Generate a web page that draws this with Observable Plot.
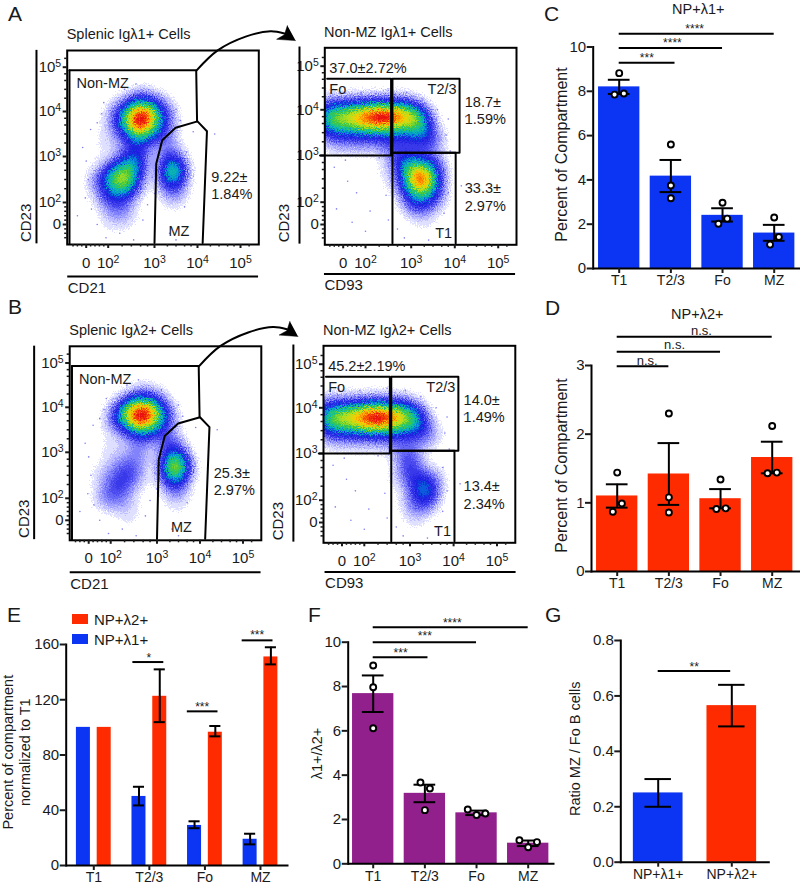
<!DOCTYPE html>
<html><head><meta charset="utf-8">
<script src="https://cdn.jsdelivr.net/npm/d3@7"></script>
<script src="https://cdn.jsdelivr.net/npm/@observablehq/plot@0.6"></script>
<style>
html,body{margin:0;padding:0;background:#fff}
#page{position:relative;width:800px;height:886px;overflow:hidden;font-family:"Liberation Sans",Arial,sans-serif;color:#1a1a1a}
#page svg{position:absolute;overflow:visible;background:transparent}
.t{position:absolute;white-space:nowrap;line-height:1;transform:translateY(-50%)}
.letter{font-size:21px}
.sw{position:absolute;width:16px;height:10px}
</style></head><body><div id="page">
<svg width="0" height="0" aria-hidden="true"><defs><filter id="grain" x="-5%" y="-5%" width="110%" height="110%" color-interpolation-filters="sRGB">
<feTurbulence type="fractalNoise" baseFrequency="0.85" numOctaves="2" seed="4" result="n"/>
<feDisplacementMap in="SourceGraphic" in2="n" scale="13" xChannelSelector="R" yChannelSelector="G"/>
</filter></defs></svg>
</div>
<script>
// ---------- categories ----------
const compartments = ["T1","T2/3","Fo","MZ"];
const groupsG = ["NP+λ1+","NP+λ2+"];
const BLUE="#0b35f2", RED="#ff2b00", PURPLE="#91208c";

// ---------- panel C ----------
const cBars=[8.2,4.17,2.4,1.6], cHi=[8.52,4.9,2.72,1.97], cLo=[7.88,3.45,2.12,1.25];
const cDotX=[0,-.09,.09, 1,1,1, 2,1.92,2.09, 3,2.92,3.09];
const cDotY=[8.82,7.85,7.9, 5.6,3.75,3.17, 2.97,2.02,2.25, 2.3,1.08,1.42];
const cBrTo=[1.08,2,3], cBrY=[9.29,9.95,10.6], cBrTx=["***","****","****"], cBrTxX=[.535,1.03,1.46], cBrTxY=[9.62,10.32,10.96];
// ---------- panel D ----------
const dBars=[1.1,1.42,1.06,1.66], dHi=[1.27,1.87,1.2,1.89], dLo=[.93,.97,.92,1.43];
const dDotX=[0,-.085,.09, 1,1,1, 2,1.92,2.1, 3,2.91,3.09];
const dDotY=[1.44,.87,.99, 2.3,1.08,.86, 1.34,.91,.92, 2.12,1.43,1.44];
const dBrTo=[1,2,3], dBrY=[2.99,3.2,3.42], dBrTx=["n.s.","n.s.","n.s."], dBrTxX=[.58,1.11,1.63], dBrTxY=[3.07,3.3,3.51];
// ---------- panel E ----------
const eBlue=[100,50,29,19], eRed=[100,122.5,96.5,151];
const eBlueHi=[null,57,32,23], eBlueLo=[null,43.5,27,15.3];
const eRedHi=[null,142,101,158], eRedLo=[null,103.8,93.5,145.6];
const eBrX1=[.703,1.683,2.67], eBrX2=[1.26,2.235,3.225], eBrY=[147.3,111.6,163];
const eBrTx=["*","***","***"], eBrTxX=[.99,1.95,2.94], eBrTxY=[152.6,116.7,168.6];
// ---------- panel F ----------
const fBars=[7.68,3.18,2.3,.93], fHi=[8.5,3.57,2.4,1.05], fLo=[6.85,2.78,2.2,.8];
const fDotX=[0,0,0, .915,1.097,1, 1.83,2,2.17, 2.83,3,3.17];
const fDotY=[8.95,7.97,6.12, 3.67,3.4,2.42, 2.45,2.2,2.27, 1.06,.75,.98];
const fBrTo=[1.06,2,3], fBrY=[9.32,10,10.68], fBrTx=["***","***","****"], fBrTxX=[.53,1,1.53], fBrTxY=[9.65,10.39,11];
// ---------- panel G ----------
const gBars=[.25,.565], gHi=[.3,.64], gLo=[.2,.49];

// ---------- flow cytometry, axes in decades (1.5 is the tick labelled 0) ----------
const flowTicks=[1.5,2,3,4,5], flowLabels=["0","10²","10³","10⁴","10⁵"];
const flowMinor=[1.2,1.3,1.4,1.6,1.7,1.8,1.9,2.3,2.5,2.7,2.85,3.3,3.5,3.7,3.85,4.3,4.5,4.7,4.85,5.2];
// gates
const g1MzX=[3.0,3.04,3.18,3.49,4.0,4.22,4.12], g1MzY=[1.08,2.84,3.36,3.64,3.78,3.56,1.08];
const arrowX=[3.98,4.47,5.12,5.7,6.02], arrowY=[4.93,5.38,5.69,5.81,5.76];
const headX=[6.28,5.84,6.02,6.09], headY=[5.6,5.63,5.73,5.94];
const g2Fo=[[1.14,4.71],[2.56,4.71],[2.56,3.0],[.98,3.0]];
const g2T23=[[2.59,3.06],[2.59,4.71],[4.11,4.71],[4.11,3.06],[2.59,3.06]];
const g2T1=[[2.59,1.08],[2.59,3.06],[4.02,3.06],[4.02,1.08]];
// density anchors [decade x, decade y, weight]
const densA=[[2.72,3.82,7],[2.42,3.82,3.2],[3.02,3.85,3],[2.72,4.1,3],[2.7,3.52,3.2],[2.5,4.02,2.5],[2.95,4.05,2.2],[2.5,3.62,2.5],[2.95,3.6,2],
 [2.15,3.85,1],[3.28,3.9,1],[2.72,4.35,.7],[2.25,4.15,.5],[3.15,4.2,.6],[2.2,3.5,.7],[3.2,3.55,.6],
 [2.65,3.25,1.4],[2.6,3.0,1.8],[2.2,3.2,.5],[1.85,3.45,.25],[1.7,3.1,.25],
 [2.33,2.5,3.8],[2.1,2.55,2.4],[2.5,2.65,2.8],[2.25,2.75,2.4],[2.15,2.25,2.5],[2.45,2.3,2],[2.55,2.9,1.9],[1.9,2.55,1.3],[1.95,2.15,1.3],[2.3,1.95,1.3],[2.1,1.8,.9],[1.7,2.4,.5],[2.4,1.6,.5],[2.0,1.45,.3],[2.75,2.5,.4],
 [3.43,2.7,4.5],[3.42,2.4,2.5],[3.38,3.0,2],[3.25,2.65,.6],[3.6,2.65,.6],[3.45,2.1,.8],[3.2,3.35,1],[3.3,3.55,.4]];
const densB=[[2.72,3.82,7],[2.42,3.82,4],[3.02,3.82,3],[2.72,4.08,2.5],[2.7,3.55,3],[2.25,3.85,2],[2.5,4.05,2],[2.95,4.0,1.8],[2.45,3.55,2],[2.95,3.55,1.5],[2.05,3.7,.9],[3.28,3.75,.9],[2.72,4.35,.6],[2.3,4.15,.4],[3.1,4.2,.4],[2.1,3.3,.35],[2.7,3.2,.7],[2.5,3.0,.6],
 [2.3,2.35,1.6],[2.05,2.3,1.2],[2.45,2.6,1.4],[2.2,2.7,1],[2.6,2.9,.7],[2.0,2.0,1],[2.3,1.95,1],[1.8,2.5,.6],[1.8,2.0,.5],[2.4,1.55,.4],[2.7,2.4,.3],[2.0,3.0,.4],
 [3.43,2.72,5.5],[3.42,2.4,3.5],[3.38,3.05,2.5],[3.25,2.7,1],[3.6,2.7,1],[3.45,2.05,.8],[3.2,3.35,1.2],[3.5,1.7,.2]];
const densA2=[[1.15,3.85,3],[1.4,3.85,3],[1.65,3.85,3.5],[1.9,3.85,4],[2.15,3.85,5],[2.4,3.85,5.5],[2.65,3.85,4.5],[2.9,3.85,3.5],[3.15,3.85,2.5],
 [1.2,3.55,2],[1.55,3.55,2],[1.9,3.55,2.2],[2.25,3.55,2.2],[2.6,3.55,2],[2.95,3.55,1.8],
 [1.2,4.1,1],[1.6,4.1,1],[2.0,4.1,1.3],[2.4,4.1,1.3],[2.8,4.1,1.2],
 [1.4,3.25,.7],[1.9,3.25,.8],[2.4,3.25,1],[2.8,3.25,1.2],
 [3.2,3.65,2.2],[3.4,3.45,1.4],[3.2,3.3,1.3],[3.55,3.25,.7],[3.0,4.0,.8],[3.3,3.85,.4],
 [3.25,2.5,6],[3.0,2.7,3.5],[3.3,2.8,2.5],[3.45,2.35,3],[3.05,2.3,3],[2.8,2.85,1.8],[2.8,2.45,1.2],[3.55,2.7,1.5],[3.25,2.05,2.2],[3.55,2.05,.8],[3.0,1.95,1],[3.3,1.65,.6],[2.7,3.0,.6],[2.3,2.6,.25],[1.9,2.5,.1],[1.4,2.1,.08]];
const densB2=[[1.15,3.8,3.5],[1.4,3.8,3.5],[1.65,3.8,4],[1.9,3.8,4.5],[2.15,3.8,5.5],[2.4,3.8,6],[2.65,3.8,5],[2.9,3.8,3.5],[3.15,3.8,2.2],
 [1.2,3.5,1.5],[1.55,3.5,1.7],[1.9,3.5,1.8],[2.25,3.5,2],[2.6,3.5,1.8],[2.95,3.5,1.4],
 [1.2,4.1,.7],[1.6,4.1,.8],[2.0,4.1,.9],[2.4,4.1,1],[2.8,4.1,.8],
 [1.4,3.2,.4],[1.9,3.2,.4],[2.4,3.2,.5],[2.8,3.2,.6],
 [3.2,3.6,1.3],[3.4,3.45,.7],[3.2,3.25,.7],[3.55,3.4,.3],[3.0,4.0,.4],
 [3.25,2.3,2.4],[3.05,2.6,1.8],[3.4,2.1,2.2],[3.0,2.9,1.2],[3.2,1.85,1.2],[3.5,2.45,1.2],[2.8,2.5,.6],[3.0,2.0,.6],[2.85,3.0,.6],[3.1,1.5,.3],[2.0,2.6,.12],[1.5,2.2,.1],[2.3,2.3,.12]];
// sparse events outside the dense areas
const sparseLeft=[[1.42,3.2],[1.5,2.9],[1.55,2.5],[1.48,2.1],[1.6,3.6],[1.75,3.75],[1.62,1.85],[1.75,1.5],[1.95,1.2],[2.25,1.3],[2.55,1.15],[2.75,1.6],[2.85,1.95],[2.95,3.05],[2.95,2.55],[3.0,2.2],[3.75,3.1],[3.8,2.6],[3.7,1.9],[3.9,3.55],[3.1,4.4],[2.6,4.62],[2.35,4.5],[1.9,4.2],[3.5,4.05],[3.6,3.8],[1.3,1.7],[1.85,3.95],[4.4,3.5],[3.35,1.3],[3.5,1.15]];
const sparseRight=[[1.3,2.75],[1.55,2.9],[1.8,2.2],[1.35,1.85],[1.7,1.55],[2.1,1.8],[2.3,2.95],[2.45,2.15],[2.0,1.35],[1.6,2.45],[2.5,1.6],[2.7,1.4],[2.85,1.2],[3.6,1.4],[3.75,1.75],[3.85,2.2],[3.75,2.7],[3.9,3.1],[3.8,3.45],[3.85,3.8],[3.6,4.0],[3.25,4.25],[2.9,4.4],[2.5,4.45],[1.9,4.4],[1.4,4.3],[4.15,2.35],[4.25,3.85],[3.4,1.15],[1.6,3.0]];
const heat=["#ffffff","#9c9cff","#4444ee","#1a1ae0","#0090d8","#10c0a0","#40c840","#b0e020","#f8d000","#ff7000","#e81010"];

const page=document.getElementById("page");
const font={fontFamily:'"Liberation Sans",Arial,sans-serif',fontSize:"14px",color:"#1a1a1a",background:"transparent",overflow:"visible"};
function place(svg,l,t){svg.style.left=l+"px";svg.style.top=t+"px";page.appendChild(svg);}
function label(txt,l,y,cls,size){const d=document.createElement("div");d.className="t "+(cls||"");d.textContent=txt;d.style.left=l+"px";d.style.top=y+"px";if(size)d.style.fontSize=size+"px";page.appendChild(d);}
// true superscripts on the power-of-ten tick labels
const supers={"²":"2","³":"3","⁴":"4","⁵":"5"};
function raiseExponents(svg){
  svg.querySelectorAll("text, tspan").forEach(el=>{
    if(el.children.length) return;
    const m=/^10([²³⁴⁵])$/.exec(el.textContent);
    if(!m) return;
    el.textContent="10";
    const s=document.createElementNS("http://www.w3.org/2000/svg","tspan");
    s.setAttribute("dy","-5");s.setAttribute("font-size","10.5");s.textContent=supers[m[1]];
    el.appendChild(s);
  });
}

// ---------- flow panel ----------
function flow(c){
  const {l,t,w,h,fx,fy,xp,yp}=c;
  const dom=[1.5,2,3,4,5];
  // piecewise decade axis: the d3 scale turns decades into panel pixels, Plot's scale keeps them
  const fxs=d3.scaleLinear().domain(dom).range(xp.map(v=>v-l));
  const fys=d3.scaleLinear().domain(dom).range(yp.map(v=>v-t));
  const xT=flowTicks.map(fxs), yT=flowTicks.map(fys);
  const rows=c.dens.map(d=>({x:d[0],y:d[1],w:d[2]}));
  const ln=(X,Y,o={})=>Plot.line(X.map((x,i)=>[x,Y[i]]),{x:"0",y:"1",stroke:"#000",strokeWidth:2,...o});
  const lnp=(P)=>Plot.line(P,{x:"0",y:"1",stroke:"#000",strokeWidth:2});
  const tx=(a)=>Plot.text(c.labels.filter(d=>(d.a||"start")===a),{x:"x",y:"y",text:"t",textAnchor:a,lineAnchor:"middle",fontSize:14.5});
  const marks=[
    Plot.density(rows,{x:"x",y:"y",weight:"w",fill:"density",bandwidth:c.bw||7,thresholds:32,clip:true,imageFilter:"url(#grain)"}),
    Plot.dot(c.sparse,{x:"0",y:"1",r:.8,fill:"#4a4af0",fillOpacity:.7,stroke:"none"}),
    Plot.frame({stroke:"#000",strokeWidth:2}),
    Plot.axisX({ticks:flowMinor.map(fxs),tickSize:2.5,tickFormat:()=>"",strokeWidth:1.5,label:null}),
    Plot.axisY({ticks:flowMinor.map(fys),tickSize:2.5,tickFormat:()=>"",strokeWidth:1.5,label:null}),
    Plot.axisX({ticks:xT,tickSize:4,tickPadding:8.5,strokeWidth:2,label:null,tickFormat:v=>flowLabels[xT.indexOf(v)],fontSize:15}),
    Plot.axisY({ticks:yT,tickSize:4,tickPadding:2,strokeWidth:2,label:null,tickFormat:v=>flowLabels[yT.indexOf(v)],fontSize:15}),
    Plot.ruleX([c.lineX],{y1:1.06,y2:c.topD,stroke:"#000",strokeWidth:2}),
    Plot.ruleY([c.lineY],{x1:c.lineX1,x2:c.lineX2,stroke:"#000",strokeWidth:2}),
    Plot.text([c.yName],{x:c.yNameX,y:1.1,rotate:-90,textAnchor:"start",lineAnchor:"middle",fontSize:15}),
    Plot.text([c.xName],{x:c.lineX1,y:c.xNameY,textAnchor:"start",lineAnchor:"middle",fontSize:15}),
    ...c.gates.map(lnp),
    ...(c.arrow?[ln(arrowX,arrowY,{curve:"catmull-rom"}),ln(headX,headY,{fill:"#000",strokeWidth:.5})]:[]),
    tx("start"),tx("middle"),tx("end")
  ];
  const svg=Plot.plot({width:w,height:h,marginLeft:fx[0]-l,marginRight:l+w-fx[1],marginTop:fy[0]-t,marginBottom:t+h-fy[1],style:font,
    x:{type:"linear",transform:v=>fxs(v),domain:[fx[0]-l,fx[1]-l],label:null},
    y:{type:"linear",transform:v=>fys(v),domain:[fy[1]-t,fy[0]-t],label:null},
    color:{type:"linear",interpolate:d3.piecewise(d3.interpolateRgb,heat)},
    marks});
  raiseExponents(svg);
  place(svg,l,t);
}
const gates1=[[[1.12,4.93],[3.97,4.93],[3.99,3.78]],g1MzX.map((x,i)=>[x,g1MzY[i]]),[[1.12,1.06],[1.12,4.93]]];
const gates2=[g2Fo,g2T23,g2T1];
const lab1=(a,b)=>[{x:1.28,y:4.64,t:"Non-MZ"},{x:3.57,y:1.35,t:"MZ",a:"middle"},{x:4.32,y:2.55,t:a},{x:4.32,y:2.17,t:b}];
const lab2=(a,b,c,d,e)=>[{x:1.19,y:4.96,t:a},{x:1.19,y:4.48,t:"Fo"},{x:4.04,y:4.48,t:"T2/3",a:"end"},{x:4.23,y:4.17,t:b},{x:4.23,y:3.79,t:c},{x:4.23,y:2.29,t:d},{x:4.23,y:1.91,t:e},{x:3.94,y:1.31,t:"T1",a:"end"}];

flow({l:0,t:44,w:270,h:250,fx:[66.7,258.3],fy:[50,244],xp:[85.7,107.7,154,197,240],yp:[224,202,156,111,66.7],dens:densA,sparse:sparseLeft,
  gates:gates1,arrow:true,lineX:.37,topD:5.38,lineY:.32,lineX1:1.08,lineX2:5.42,yName:"CD23",yNameX:.14,xName:"CD21",xNameY:.05,labels:lab1("9.22±","1.84%")});
flow({l:0,t:340,w:270,h:250,fx:[69.2,260.8],fy:[345.8,539.8],xp:[88.2,110.2,156.5,199.5,242.5],yp:[519.8,497.8,451.8,406.8,362.5],dens:densB,sparse:sparseLeft,
  gates:gates1,arrow:true,lineX:.26,topD:5.38,lineY:.32,lineX1:1.08,lineX2:5.42,yName:"CD23",yNameX:.03,xName:"CD21",xNameY:.05,labels:lab1("25.3±","2.97%")});
flow({l:270,t:42,w:260,h:252,fx:[324.3,516],fy:[47.3,244.3],xp:[342.7,365,410.7,454.3,497.7],yp:[224,201.7,155,109.3,65.7],dens:densA2,sparse:sparseRight,
  gates:gates2,lineX:.52,topD:5.44,lineY:.39,lineX1:1.08,lineX2:5.4,yName:"CD23",yNameX:.18,xName:"CD93",xNameY:.13,labels:lab2("37.0±2.72%","18.7±","1.59%","33.3±","2.97%")});
flow({l:270,t:340,w:260,h:250,fx:[323,514.8],fy:[345.3,542.3],xp:[341.5,363.8,409.5,453.1,496.5],yp:[522,499.7,453,407.3,363.7],dens:densB2,sparse:sparseRight,
  gates:gates2,lineX:.41,topD:5.44,lineY:.39,lineX1:1.12,lineX2:5.44,yName:"CD23",yNameX:.07,xName:"CD93",xNameY:.13,labels:lab2("45.2±2.19%","14.0±","1.49%","13.4±","2.34%")});

// ---------- bar panels ----------
function bars(c){
  const {l,t,w,h,axisL,axisR,y0,yTop,domainY,c0,cN,cats}=c;
  const n=cats.length, idx=d3.range(n);
  const stepPx=(cN-c0)/(n-1), toX=p=>(p-c0)/stepPx;
  const marks=[
    ...(c.marksBehind||[]),
    Plot.frame({anchor:"left",stroke:"#000",strokeWidth:2}),
    Plot.frame({anchor:"bottom",stroke:"#000",strokeWidth:2}),
    Plot.axisX({ticks:idx,tickSize:5,tickPadding:2,strokeWidth:2,label:null,tickFormat:i=>cats[i],fontSize:14}),
    Plot.axisY({ticks:c.yTicks,tickSize:6,tickPadding:1,strokeWidth:2,label:null,tickFormat:c.yFormat||d3.format("d"),fontSize:c.tickFont||15}),
    ...c.yLabels.map(s=>Plot.text([s.t],{x:toX(s.x),y:domainY[0]+(domainY[1]-domainY[0])*(y0-s.y)/(y0-yTop),rotate:-90,textAnchor:"middle",lineAnchor:"middle",fontSize:s.size||16}))
  ];
  if(c.vals){
    const rows=idx.map(i=>({i,v:c.vals[i],hi:c.hi[i],lo:c.lo[i]}));
    const bw=c.barHalf, cap=c.capHalf;
    marks.splice(0,0,Plot.rect(rows,{x1:d=>d.i-bw,x2:d=>d.i+bw,y1:0,y2:"v",fill:d=>c.colors?c.colors[d.i]:c.color}));
    marks.push(Plot.ruleX(rows,{x:"i",y1:"lo",y2:"hi",stroke:"#000",strokeWidth:2}));
    for(const k of ["hi","lo"]) marks.push(Plot.ruleY(rows,{y:k,x1:d=>d.i-cap,x2:d=>d.i+cap,stroke:"#000",strokeWidth:2}));
  }
  if(c.dotX) marks.push(Plot.dot(c.dotX.map((x,i)=>[x,c.dotY[i]]),{x:"0",y:"1",r:3,fill:"#fff",stroke:"#000",strokeWidth:1.9}));
  if(c.br){
    const rows=c.br.y.map((y,i)=>({y,x1:c.br.x1?c.br.x1[i]:0,x2:c.br.x2[i],t:c.br.tx[i],tx:c.br.txX[i],ty:c.br.txY[i]}));
    marks.push(Plot.ruleY(rows,{y:"y",x1:"x1",x2:"x2",stroke:"#000",strokeWidth:2}));
    const ns=c.br.tx[0]==="n.s.";
    marks.push(Plot.text(rows,{x:"tx",y:"ty",text:"t",fontSize:ns?13:12,lineAnchor:"middle",dy:ns?0:3}));
  }
  if(c.title) marks.push(Plot.text([c.title[0]],{x:c.title[1],y:c.title[2],fontSize:14.5,lineAnchor:"middle"}));
  if(c.extra) marks.push(...c.extra(toX));
  const svg=Plot.plot({width:w,height:h,marginLeft:axisL-l,marginRight:l+w-axisR,marginTop:yTop-t,marginBottom:t+h-y0,style:font,
    x:{domain:[0,n-1],range:[c0-l,cN-l],label:null},
    y:{domain:domainY,range:[y0-t,yTop-t],label:null},
    marks});
  place(svg,l,t);
}
bars({l:530,t:0,w:270,h:296,axisL:592.7,axisR:800,y0:268,yTop:46.5,domainY:[0,10],c0:618.7,cN:773.7,cats:compartments,yTicks:[0,2,4,6,8,10],
  vals:cBars,hi:cHi,lo:cLo,color:BLUE,barHalf:.4,capHalf:.21,dotX:cDotX,dotY:cDotY,
  br:{y:cBrY,x2:cBrTo,tx:cBrTx,txX:cBrTxX,txY:cBrTxY},title:["NP+λ1+",1.53,11.68],
  yLabels:[{t:"Percent of Compartment",x:561,y:154}]});
bars({l:530,t:300,w:270,h:296,axisL:591,axisR:800,y0:571,yTop:365,domainY:[0,3],c0:616.7,cN:771.7,cats:compartments,yTicks:[0,1,2,3],
  vals:dBars,hi:dHi,lo:dLo,color:RED,barHalf:.4,capHalf:.21,dotX:dDotX,dotY:dDotY,
  br:{y:dBrY,x2:dBrTo,tx:dBrTx,txX:dBrTxX,txY:dBrTxY},title:["NP+λ2+",1.55,3.75],
  yLabels:[{t:"Percent of Compartment",x:561.7,y:465}]});
bars({l:0,t:600,w:300,h:286,axisL:65.7,axisR:287,y0:865,yTop:644,domainY:[0,160],c0:93.3,cN:260,cats:compartments,yTicks:[0,40,80,120,160],
  br:{y:eBrY,x1:eBrX1,x2:eBrX2,tx:eBrTx,txX:eBrTxX,txY:eBrTxY},
  yLabels:[{t:"Percent of compartment",x:8,y:751.7,size:14.5},{t:"normalized to T1",x:25,y:751.7,size:14.5}],
  marksBehind:[
    Plot.rect(eBlue,{x1:(d,i)=>i-.313,x2:(d,i)=>i-.061,y1:0,y2:d=>d,fill:BLUE}),
    Plot.rect(eRed,{x1:(d,i)=>i+.061,x2:(d,i)=>i+.313,y1:0,y2:d=>d,fill:RED})],
  extra:()=>{const mk=(Hi,Lo,off)=>{const r=Hi.map((v,i)=>({x:i+off,hi:v,lo:Lo[i]})).filter(d=>d.hi!=null);
      return [Plot.ruleX(r,{x:"x",y1:"lo",y2:"hi",stroke:"#000",strokeWidth:2}),
        Plot.ruleY(r,{y:"hi",x1:d=>d.x-.1,x2:d=>d.x+.1,stroke:"#000",strokeWidth:2}),
        Plot.ruleY(r,{y:"lo",x1:d=>d.x-.1,x2:d=>d.x+.1,stroke:"#000",strokeWidth:2})];};
    return [...mk(eBlueHi,eBlueLo,-.187),...mk(eRedHi,eRedLo,.187)];}});
bars({l:300,t:600,w:260,h:286,axisL:347.7,axisR:553,y0:863.3,yTop:641.7,domainY:[0,10],c0:372.7,cN:527.7,cats:compartments,yTicks:[0,2,4,6,8,10],
  vals:fBars,hi:fHi,lo:fLo,color:PURPLE,barHalf:.4,capHalf:.21,dotX:fDotX,dotY:fDotY,
  br:{y:fBrY,x2:fBrTo,tx:fBrTx,txX:fBrTxX,txY:fBrTxY},
  yLabels:[{t:"λ1+/λ2+",x:316.7,y:753,size:14.5}]});
bars({l:560,t:600,w:240,h:286,axisL:620.3,axisR:768.3,y0:861.7,yTop:640,domainY:[0,.8],c0:657.7,cN:731.3,cats:groupsG,yTicks:[0,.2,.4,.6,.8],yFormat:d3.format(".1f"),
  vals:gBars,hi:gHi,lo:gLo,colors:[BLUE,RED],barHalf:.3375,capHalf:.18,
  br:{y:[.69],x2:[.985],tx:["**"],txX:[.49],txY:[.716]},
  yLabels:[{t:"Ratio MZ / Fo B cells",x:575,y:748.3,size:14.5}]});

// ---------- page text ----------
[["A",8,13],["B",8,306],["C",544,13],["D",545,307],["E",7,614],["F",308,614],["G",545,614]].forEach(d=>label(d[0],d[1],d[2],"letter"));
label("Splenic Igλ1+ Cells",66.7,34,"",14.5);
label("Non-MZ Igλ1+ Cells",324,32.3,"",14.5);
label("Splenic Igλ2+ Cells",69.3,330,"",14.5);
label("Non-MZ Igλ2+ Cells",323,330,"",14.5);
// legend of panel E
[[RED,619,"NP+λ2+"],[BLUE,639.3,"NP+λ1+"]].forEach(d=>{
  const s=document.createElement("div");s.className="sw";s.style.left="72px";s.style.top=(d[1]-5)+"px";s.style.background=d[0];page.appendChild(s);
  label(d[2],94,d[1],"",15);
});
</script></body></html>
